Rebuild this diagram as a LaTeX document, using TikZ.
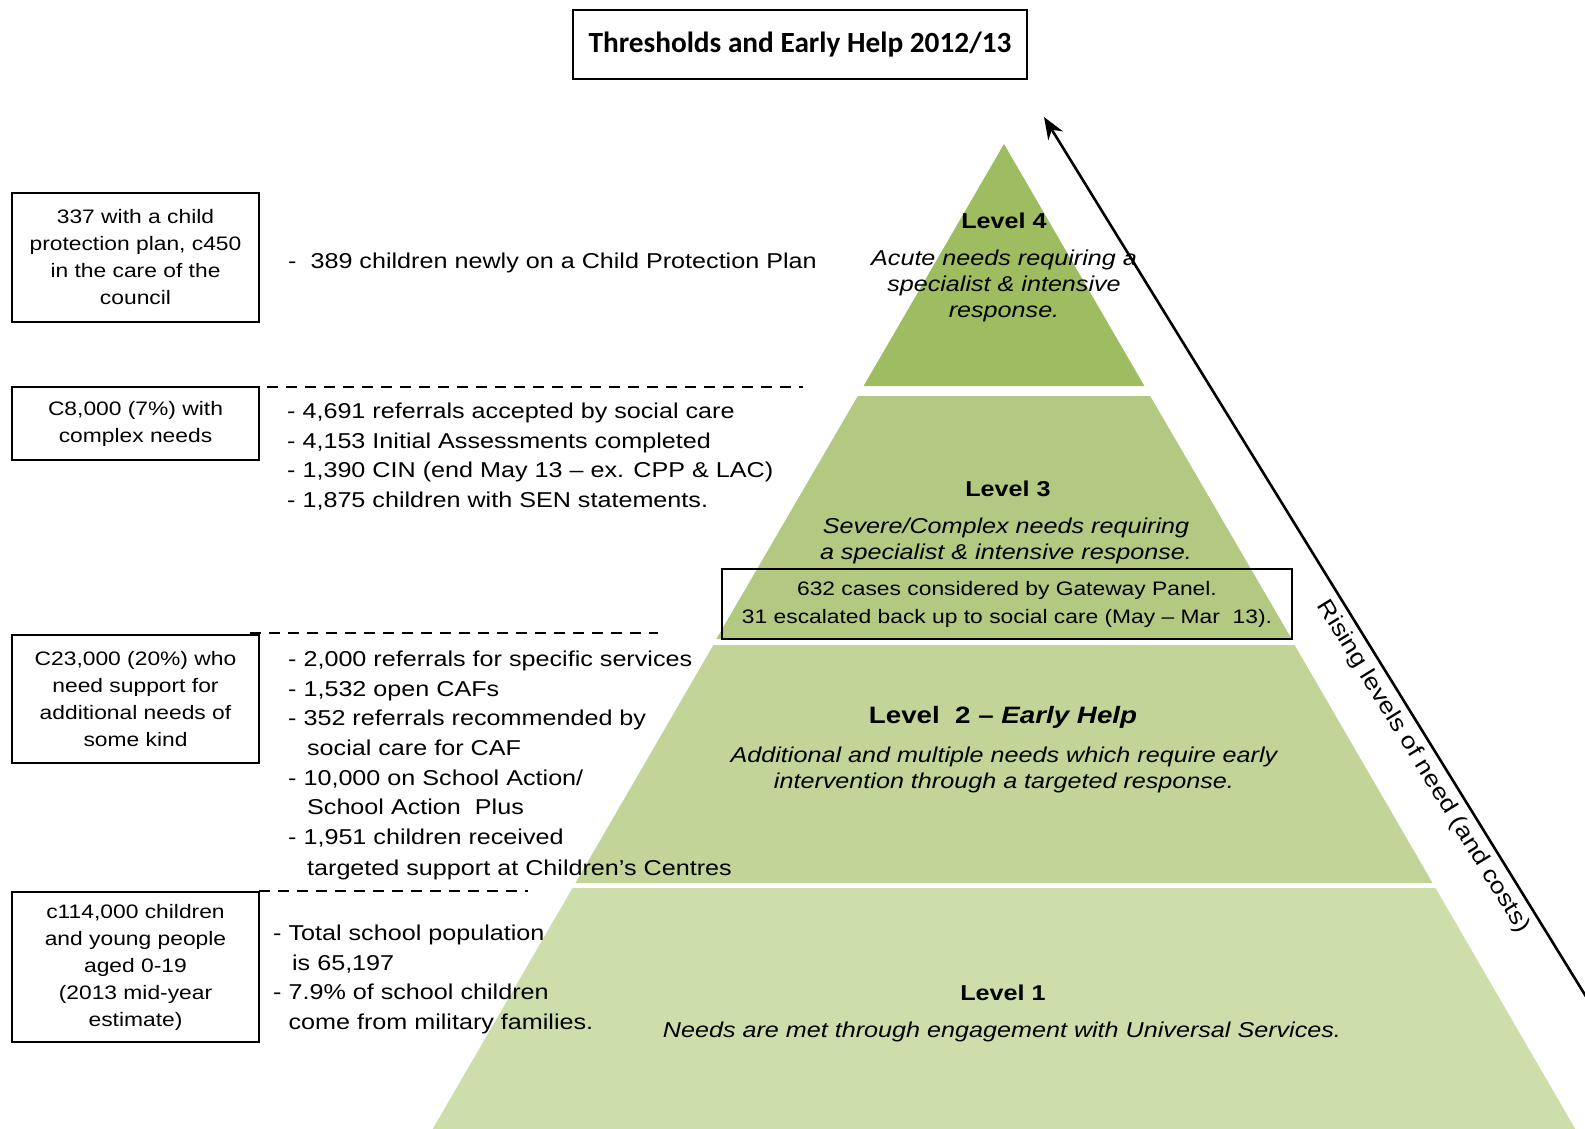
\documentclass[tikz,border=0pt]{standalone}
\usepackage{fontspec}
\setmainfont{Liberation Sans}[FakeStretch=1.17]
\newfontfamily\titlefont{Carlito}
\usetikzlibrary{positioning}
\usetikzlibrary{arrows.meta}

\definecolor{tierfour}{RGB}{158,188,96}
\definecolor{tierthree}{RGB}{179,201,130}
\definecolor{tiertwo}{RGB}{194,212,152}
\definecolor{tierone}{RGB}{206,222,171}

\newcommand{\listsize}{\fontsize{21.5}{29.6}\selectfont}
\newcommand{\boxsize}{\fontsize{19.5}{27}\selectfont}
\newcommand{\levelsize}{\fontsize{21.5}{26}\selectfont}

\begin{document}
\begin{tikzpicture}[x=1pt, y=-1pt,
	countbox/.style={draw, line width=2.2pt, minimum width=247pt, align=center, inner sep=0pt, font=\boxsize},
	factlist/.style={anchor=north west, align=left, inner sep=0pt, font=\listsize},
	leveltitle/.style={anchor=base, inner sep=0pt, font=\levelsize\bfseries},
	leveltext/.style={anchor=north, align=center, inner sep=0pt, font=\levelsize\itshape},
	levelrule/.style={line width=1.8pt, dash pattern=on 11pt off 8pt}]
	\useasboundingbox (0,0) rectangle (1585,1129);

	\node[draw, line width=2.6pt, minimum width=454pt, minimum height=69pt, font=\titlefont\bfseries\fontsize{29.3}{31}\selectfont] (title) at (800,44.5) {Thresholds and Early Help 2012/13};

	\fill[tierfour] (1004,144) -- (1144.4,386) -- (863.6,386) -- cycle;
	\fill[tierthree] (857.8,396) -- (1150.2,396) -- (1291.7,639) -- (716.3,639) -- cycle;
	\fill[tiertwo] (713.4,645) -- (1294.6,645) -- (1432.6,883) -- (575.4,883) -- cycle;
	\fill[tierone] (572.5,888) -- (1435.5,888) -- (1575.3,1129) -- (432.7,1129) -- cycle;

	\node[leveltitle] (lvfour) at (1004,228) {Level 4};
	\node[leveltext] (lvfourtext) at (1004,250) {Acute needs requiring a\\specialist \& intensive\\response.};
	\node[leveltitle] (lvthree) at (1008,496) {Level 3};
	\node[leveltext] (lvthreetext) at (1006,518) {Severe/Complex needs requiring\\a specialist \& intensive response.};
	\node[draw, line width=2.2pt, minimum width=570pt, minimum height=70pt, align=center, inner sep=0pt, font=\fontsize{19.5}{28}\selectfont] (gateway) at (1007,604) {632 cases considered by Gateway Panel.\\31 escalated back up to social care (May – Mar\ \ 13).};
	\node[leveltitle, font=\fontsize{23.7}{28}\selectfont\bfseries] (lvtwo) at (1003,723.5) {Level\ \ 2 – \textit{Early Help}};
	\node[leveltext] (lvtwotext) at (1004,747) {Additional and multiple needs which require early\\intervention through a targeted response.};
	\node[leveltitle] (lvone) at (1003,1000) {Level 1};
	\node[leveltitle, font=\levelsize\itshape] (lvonetext) at (1002,1037) {Needs are met\ through engagement with Universal Services.};

	\coordinate (risefoot) at (1590,1003);
	\coordinate (risetip) at (1044,117);
	\draw[line width=2.6pt, -{Stealth[length=22pt, width=17pt, inset=7pt]}] (risefoot) -- (risetip);
	\node[rotate=-58.4, inner sep=0pt, font=\fontsize{22.8}{26}\selectfont] (risetext) at (1423,767) {Rising levels of need (and costs)};

	\node[countbox, minimum height=129pt] (cpbox) at (135.5,257.5) {337 with a child\\protection plan, c450\\in the care of the\\council};
	\node[countbox, minimum height=73pt] (complexbox) at (135.5,423.5) {C8,000 (7\%) with\\complex needs};
	\node[countbox, minimum height=128pt] (supportbox) at (135.5,699) {C23,000 (20\%) who\\need support for\\additional needs of\\some kind};
	\node[countbox, minimum height=150pt] (childbox) at (135.5,967) {c114,000 children\\and young people\\aged 0-19\\(2013 mid-year\\estimate)};

	\draw[levelrule] (267,387) -- (803,387);
	\draw[levelrule] (250,633) -- (658,633);
	\draw[levelrule] (259,891) -- (528,891);

	\node[factlist] (cpfacts) at (288,253) {-\ \ 389 children newly on a Child Protection Plan};
	\node[factlist] (complexfacts) at (287,403) {- 4,691 referrals accepted by social care\\- 4,153 Initial Assessments\ completed\\- 1,390 CIN (end May 13 – ex. CPP \& LAC)\\- 1,875 children with SEN statements.};
	\node[factlist] (supportfacts) at (288,651) {- 2,000 referrals for specific services\\- 1,532 open CAFs\\- 352 referrals recommended by\\\phantom{- }\,social care for CAF\\- 10,000 on School Action/\\\phantom{- }\,School Action\ \ Plus\\- 1,951 children received\\[2pt]\phantom{- }\,targeted support at Children's Centres};
	\node[factlist] (childfacts) at (273,925) {- Total school population\\\phantom{- }\,is 65,197\\- 7.9\% of school children\\\phantom{- }come from military families.};
\end{tikzpicture}
\end{document}
